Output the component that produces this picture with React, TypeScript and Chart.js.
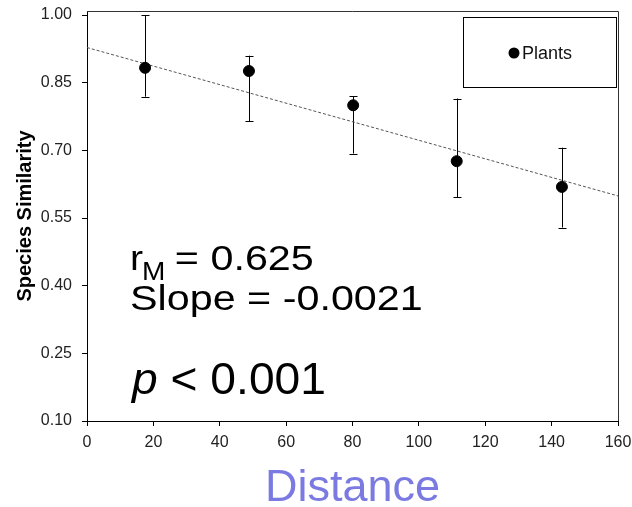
import { useEffect, useRef } from 'react';
import { Chart, registerables } from 'chart.js';

Chart.register(...registerables);

// ---- data ----
const distances = [17.5, 48.8, 80.2, 111.4, 143.1];
const similarity = [0.883, 0.876, 0.8, 0.676, 0.619];
const errUpper = [1.0, 0.91, 0.82, 0.815, 0.706];
const errLower = [0.819, 0.765, 0.693, 0.596, 0.529];
const fitX = [0, 160];
const fitY = [0.928, 0.599];
const xTickValues = [0, 20, 40, 60, 80, 100, 120, 140, 160];
const yTickValues = [0.1, 0.25, 0.4, 0.55, 0.7, 0.85, 1.0];
const seriesLabel = 'Plants';
const xTitle = 'Distance';
const yTitle = 'Species Similarity';
const statR = '0.625';
const statSlope = '-0.0021';
const statP = '0.001';

const FONT = '"Liberation Sans", Arial, Helvetica, sans-serif';

function drawStretched(ctx: CanvasRenderingContext2D, text: string, x: number, y: number, font: string, sx: number): number {
  ctx.save();
  ctx.font = font;
  ctx.translate(x, y);
  ctx.scale(sx, 1);
  ctx.fillText(text, 0, 0);
  const w = ctx.measureText(text).width * sx;
  ctx.restore();
  return w;
}

const overlayPlugin = {
  id: 'overlay',
  beforeDatasetsDraw(chart: any) {
    const ctx: CanvasRenderingContext2D = chart.ctx;
    const xs = chart.scales.x;
    const ys = chart.scales.y;
    ctx.save();
    ctx.strokeStyle = '#000';
    ctx.lineWidth = 1;
    for (let i = 0; i < distances.length; i++) {
      const px = Math.round(xs.getPixelForValue(distances[i])) + 0.5;
      const pTop = ys.getPixelForValue(errUpper[i]);
      const pBot = ys.getPixelForValue(errLower[i]);
      ctx.beginPath();
      ctx.moveTo(px, pTop);
      ctx.lineTo(px, pBot);
      ctx.moveTo(px - 4, Math.round(pTop) + 0.5);
      ctx.lineTo(px + 4, Math.round(pTop) + 0.5);
      ctx.moveTo(px - 4, Math.round(pBot) + 0.5);
      ctx.lineTo(px + 4, Math.round(pBot) + 0.5);
      ctx.stroke();
    }
    ctx.restore();
  },
  afterDatasetsDraw(chart: any) {
    const ctx: CanvasRenderingContext2D = chart.ctx;
    const a = chart.chartArea;
    ctx.save();
    // frame (top / right)
    ctx.strokeStyle = '#333';
    ctx.lineWidth = 1;
    ctx.beginPath();
    ctx.moveTo(a.left, Math.round(a.top) + 0.5);
    ctx.lineTo(Math.round(a.right) + 0.5, Math.round(a.top) + 0.5);
    ctx.lineTo(Math.round(a.right) + 0.5, a.bottom);
    ctx.stroke();

    // legend box
    const bx = a.right - 155;
    const by = a.top + 6;
    ctx.strokeStyle = '#000';
    ctx.strokeRect(Math.round(bx) + 0.5, Math.round(by) + 0.5, 153, 70);
    ctx.fillStyle = '#000';
    ctx.beginPath();
    ctx.arc(bx + 51, by + 36, 5.5, 0, Math.PI * 2);
    ctx.fill();
    ctx.font = `18px ${FONT}`;
    ctx.textBaseline = 'alphabetic';
    ctx.textAlign = 'left';
    ctx.fillStyle = '#111';
    ctx.fillText(seriesLabel, bx + 59, by + 42);

    // statistics annotation
    ctx.fillStyle = '#000';
    const sx = 1.18;
    const x0 = a.left + 43;
    let x = x0;
    x += drawStretched(ctx, 'r', x, 270, `35px ${FONT}`, 1.12);
    x += drawStretched(ctx, 'M', x - 1, 280, `25px ${FONT}`, 1.12);
    drawStretched(ctx, ` = ${statR}`, x - 3, 270, `35px ${FONT}`, sx);
    drawStretched(ctx, `Slope = ${statSlope}`, x0, 310, `35px ${FONT}`, sx);
    let xp = x0 + 2;
    xp += drawStretched(ctx, 'p', xp, 394, `italic 44px ${FONT}`, 1.05);
    drawStretched(ctx, ` < ${statP}`, xp, 394, `44px ${FONT}`, 1.05);
    ctx.restore();
  },
};

function zeroPadding(s: any) {
  s.paddingTop = 0;
  s.paddingBottom = 0;
  s.paddingLeft = 0;
  s.paddingRight = 0;
}

export default function App() {
  const ref = useRef<HTMLCanvasElement | null>(null);
  useEffect(() => {
    if (!ref.current) return;
    const chart = new Chart(ref.current, {
      type: 'scatter',
      data: {
        datasets: [
          {
            type: 'line',
            label: 'fit',
            data: fitX.map((v, i) => ({ x: v, y: fitY[i] })),
            borderColor: '#555',
            borderWidth: 1,
            borderDash: [3, 2],
            pointRadius: 0,
            fill: false,
            order: 2,
          } as any,
          {
            label: seriesLabel,
            data: distances.map((v, i) => ({ x: v, y: similarity[i] })),
            backgroundColor: '#000',
            borderColor: '#000',
            pointRadius: 5.5,
            pointHoverRadius: 5.5,
            order: 1,
          },
        ],
      },
      options: {
        responsive: false,
        animation: false,
        events: [],
        layout: { padding: { top: 11, right: 14, left: 0, bottom: 0 } },
        plugins: { legend: { display: false }, tooltip: { enabled: false } },
        scales: {
          x: {
            type: 'linear',
            min: 0,
            max: 160,
            afterBuildTicks: (s: any) => {
              s.ticks = xTickValues.map((v) => ({ value: v }));
            },
            afterFit: (s: any) => {
              s.height = 86;
              zeroPadding(s);
            },
            ticks: {
              font: { family: FONT, size: 16 },
              color: '#222',
              padding: 7,
              maxRotation: 0,
              callback: (v: any) => String(v),
            },
            grid: { drawOnChartArea: false, drawTicks: true, tickLength: 5, color: '#000' },
            border: { display: true, color: '#000', width: 1 },
            title: {
              display: true,
              text: xTitle,
              color: 'rgb(122,122,226)',
              font: { family: FONT, size: 45, lineHeight: 1 },
              padding: { top: 0, bottom: -4 },
            },
          },
          y: {
            type: 'linear',
            min: 0.1,
            max: 1.009,
            afterBuildTicks: (s: any) => {
              s.ticks = yTickValues.map((v) => ({ value: v }));
            },
            afterFit: (s: any) => {
              s.width = 87;
              zeroPadding(s);
            },
            ticks: {
              font: { family: FONT, size: 16 },
              color: '#222',
              padding: 10,
              callback: (v: any) => Number(v).toFixed(2),
            },
            grid: { drawOnChartArea: false, drawTicks: true, tickLength: 5, color: '#000' },
            border: { display: true, color: '#000', width: 1 },
            title: {
              display: true,
              text: yTitle,
              color: '#000',
              font: { family: FONT, size: 20, weight: 'bold', lineHeight: 1.2 },
              padding: { top: 13, bottom: 0 },
            },
          },
        },
      },
      plugins: [overlayPlugin],
    });
    return () => chart.destroy();
  }, []);
  return (
    <div style={{ position: 'absolute', left: 0, top: 0, width: 632, height: 507, background: '#fff' }}>
      <canvas ref={ref} width={632} height={507} />
    </div>
  );
}
